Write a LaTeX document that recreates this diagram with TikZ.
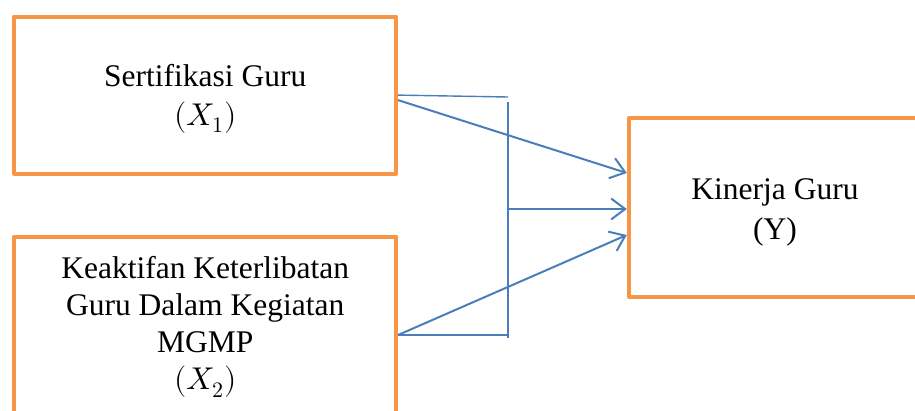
\documentclass[tikz,border=0pt]{standalone}
\usepackage{fontspec}
\usepackage{unicode-math}
\setmainfont{Liberation Serif}
\usetikzlibrary{arrows.meta}
\definecolor{boxorange}{HTML}{F79646}
\definecolor{lineblue}{HTML}{4A7EBB}
\begin{document}
\begin{tikzpicture}[x=1pt,y=-1pt,
  box/.style={draw=boxorange, line width=4pt, inner sep=0pt, line join=round},
  txt/.style={align=center, font=\fontsize{31.5}{37}\selectfont, inner sep=0pt},
  conn/.style={draw=lineblue, line width=2pt},
  arr/.style={conn, -{Straight Barb[length=14pt,width=21pt,line width=2pt]}}]
\clip (0,0) rectangle (915,410);
\node[box, minimum width=381.7pt, minimum height=157.2pt] (b1) at (205.2,95.1) {};
\node[box, minimum width=381.7pt, minimum height=190pt] (b2) at (205.2,331.5) {};
\node[box, minimum width=300pt, minimum height=178.6pt] (b3) at (778.8,207.5) {};
\node[txt] (t1) at (205.2,98.5) {Sertifikasi Guru\\[2pt]$(X_1)$};
\node[txt] (t2) at (205.2,327) {Keaktifan Keterlibatan\\Guru Dalam Kegiatan\\MGMP\\$(X_2)$};
\node[txt] (t3) at (775,212) {Kinerja Guru\\[3pt](Y)};
\coordinate (j1) at (508,97);
\coordinate (j2) at (508,102);
\coordinate (j3) at (508,338);
\coordinate (j4) at (508,335);
\coordinate (j5) at (508,209);
\draw[conn, line width=1.4pt] (b1.east) -- (j1);
\draw[conn] (j2) -- (j3);
\draw[conn] ([yshift=-3.5pt]b2.east) -- (j4);
\draw[arr] ([yshift=-5pt]b1.east) -- ([yshift=34.5pt]b3.west);
\draw[arr] (j5) -- (j5 -| b3.west);
\draw[arr] ([yshift=-3.5pt]b2.east) -- ([yshift=-27.5pt]b3.west);
\end{tikzpicture}
\end{document}
